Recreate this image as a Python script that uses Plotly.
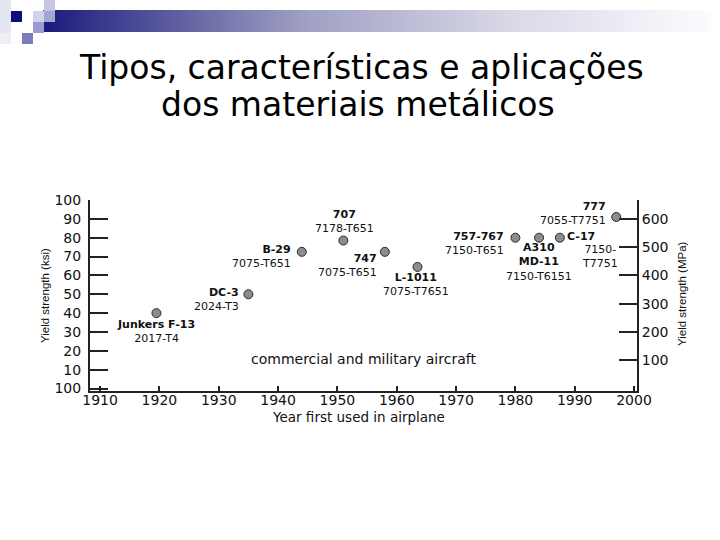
import plotly.graph_objects as go

# ---------------- data ----------------
years = [1919.5, 1935, 1944, 1951, 1958, 1963.5, 1980, 1984, 1987.5, 1997]
yield_ksi = [40, 50, 72.5, 78.5, 72.5, 64.5, 80, 80, 80, 91]
aircraft = ["Junkers F-13", "DC-3", "B-29", "707", "747", "L-1011", "757-767", "A310|MD-11", "C-17", "777"]
alloys = ["2017-T4", "2024-T3", "7075-T651", "7178-T651", "7075-T651", "7075-T7651",
          "7150-T651", "7150-T6151", "7150-|T7751", "7055-T7751"]

x_ticks = [1910, 1920, 1930, 1940, 1950, 1960, 1970, 1980, 1990, 2000]
ksi_ticks = [0, 10, 20, 30, 40, 50, 60, 70, 80, 90, 100]
ksi_ticktext = ["100", "10", "20", "30", "40", "50", "60", "70", "80", "90", "100"]
mpa_ticks = [100, 200, 300, 400, 500, 600]

title_lines = ["Tipos, características e aplicações", "dos materiais metálicos"]
x_title = "Year first used in airplane"
y_title_left = "Yield strength (ksi)"
y_title_right = "Yield strength (MPa)"
inner_label = "commercial and military aircraft"

# ---------------- label placement (style: pixel offsets of label blocks from their point) ----------------
# name block: (dx, dy, anchor) or None when joined with the alloy block
# alloy block: (dx, dy, anchor)
name_place = [None, None, None, None, None, None, None, None, (6, -1, "left"), None]
alloy_place = [
    (0, 18, "center"),
    (-8, 5, "right"),
    (-10, 5, "right"),
    (1, -19, "center"),
    (-7, 14, "right"),
    (-1, 18, "center"),
    (-10, 6, "right"),
    (0, 24, "center"),
    (40, 19, "center"),
    (-9, -3, "right"),
]

W, H = 720, 540
PL, PR, PT, PB = 90, 637, 200, 391  # plot box in page pixels

FONT = "DejaVu Sans"
LBL = dict(family=FONT, size=11, color="#111")

fig = go.Figure()

fig.add_trace(go.Scatter(
    x=years, y=yield_ksi, mode="markers",
    marker=dict(size=9, color="#8c8c8c", line=dict(color="#2a2a2a", width=1)),
    hoverinfo="skip", showlegend=False,
))
# invisible trace to activate the right (MPa) axis
fig.add_trace(go.Scatter(x=[years[0]], y=[mpa_ticks[0]], yaxis="y2", mode="markers",
                         marker=dict(opacity=0), showlegend=False, hoverinfo="skip"))

annotations = []
for i in range(len(years)):
    names = ["<b>%s</b>" % s for s in aircraft[i].split("|")]
    alls = alloys[i].split("|")
    if name_place[i] is None:
        blocks = [(names + alls, alloy_place[i])]
    else:
        blocks = [(names, name_place[i]), (alls, alloy_place[i])]
    for lines, (dx, dy, anc) in blocks:
        annotations.append(dict(
            x=years[i], y=yield_ksi[i], xref="x", yref="y", text="<br>".join(lines),
            showarrow=False, xanchor=anc, yanchor="middle", align=anc,
            xshift=dx, yshift=-dy, font=LBL, borderpad=0,
        ))


def px(x):
    return x / W


def py(y):
    return 1 - y / H


# slide title
annotations.append(dict(x=px(361), y=py(67), xref="paper", yref="paper", text=title_lines[0],
                        showarrow=False, xanchor="center", yanchor="middle",
                        font=dict(family=FONT, size=33, color="#000")))
annotations.append(dict(x=px(358), y=py(104), xref="paper", yref="paper", text=title_lines[1],
                        showarrow=False, xanchor="center", yanchor="middle",
                        font=dict(family=FONT, size=33, color="#000")))
# axis titles
annotations.append(dict(x=px(358.5), y=py(417), xref="paper", yref="paper", text=x_title,
                        showarrow=False, xanchor="center", yanchor="middle",
                        font=dict(family=FONT, size=13.5, color="#111")))
annotations.append(dict(x=px(45), y=py(296), xref="paper", yref="paper", text=y_title_left,
                        showarrow=False, xanchor="center", yanchor="middle", textangle=-90,
                        font=dict(family="Liberation Sans", size=11.5, color="#111")))
annotations.append(dict(x=px(682), y=py(294), xref="paper", yref="paper", text=y_title_right,
                        showarrow=False, xanchor="center", yanchor="middle", textangle=-90,
                        font=dict(family="Liberation Sans", size=11.5, color="#111")))
annotations.append(dict(x=px(363), y=py(359), xref="paper", yref="paper", text=inner_label,
                        showarrow=False, xanchor="center", yanchor="middle",
                        font=dict(family=FONT, size=14, color="#111")))

# decorative slide header: gradient bar + squares
shapes = []
stops = [(43, (26, 26, 124)), (300, (158, 158, 194)), (500, (214, 214, 230)), (710, (252, 252, 254))]


def grad(x):
    for (x0, c0), (x1, c1) in zip(stops[:-1], stops[1:]):
        if x <= x1:
            t = (x - x0) / (x1 - x0)
            return tuple(int(round(a + (b - a) * t)) for a, b in zip(c0, c1))
    return stops[-1][1]


step = 4
xx = 43
while xx < 710:
    c = grad(xx + step / 2)
    shapes.append(dict(type="rect", xref="paper", yref="paper",
                       x0=px(xx), x1=px(xx + step + 0.5), y0=py(32), y1=py(10),
                       line=dict(width=0), fillcolor="rgb(%d,%d,%d)" % c, layer="below"))
    xx += step
squares = [(0, 0, "#e6e6f2"), (0, 11, "#e6e6f2"), (0, 22, "#e6e6f2"), (0, 33, "#eeeef6"),
           (11, 11, "#0e0e7a"), (33, 11, "#d2d2ea"), (44, 0, "#c6c6e2"), (44, 11, "#a4a4d2"),
           (33, 22, "#9c9cce"), (22, 33, "#7c7cbc")]
for sx, sy, col in squares:
    shapes.append(dict(type="rect", xref="paper", yref="paper",
                       x0=px(sx), x1=px(sx + 11), y0=py(sy + 11), y1=py(sy),
                       line=dict(width=0), fillcolor=col, layer="below"))

fig.update_layout(
    width=W, height=H, autosize=False,
    margin=dict(l=0, r=0, t=0, b=0, pad=0),
    paper_bgcolor="white", plot_bgcolor="white",
    showlegend=False,
    annotations=annotations,
    shapes=shapes,
    xaxis=dict(
        domain=[PL / W, PR / W], range=[1908.3, 2000.5], tickvals=x_ticks,
        ticks="inside", ticklen=5, tickwidth=1.5, tickcolor="#222",
        showline=True, linecolor="#222", linewidth=2, showgrid=False, zeroline=False,
        tickfont=dict(family=FONT, size=14, color="#111"), anchor="y", automargin=False,
        ticklabelstandoff=-5,
    ),
    yaxis=dict(
        domain=[1 - PB / H, 1 - PT / H], range=[-1.3, 100], tickvals=ksi_ticks, ticktext=ksi_ticktext,
        ticks="inside", ticklen=18, tickwidth=2, tickcolor="#222",
        showline=True, linecolor="#222", linewidth=2, showgrid=False, zeroline=False,
        tickfont=dict(family=FONT, size=14, color="#111"), anchor="x", automargin=False,
        ticklabelstandoff=4,
    ),
    yaxis2=dict(
        overlaying="y", side="right", range=[-10, 667.7], tickvals=mpa_ticks,
        ticks="inside", ticklen=18, tickwidth=2, tickcolor="#222",
        showline=True, linecolor="#222", linewidth=2, showgrid=False, zeroline=False,
        tickfont=dict(family=FONT, size=14, color="#111"), anchor="x", automargin=False,
    ),
)

fig.write_html("out.html", config={"displayModeBar": False},
               post_script="document.body.style.margin='0px';")
